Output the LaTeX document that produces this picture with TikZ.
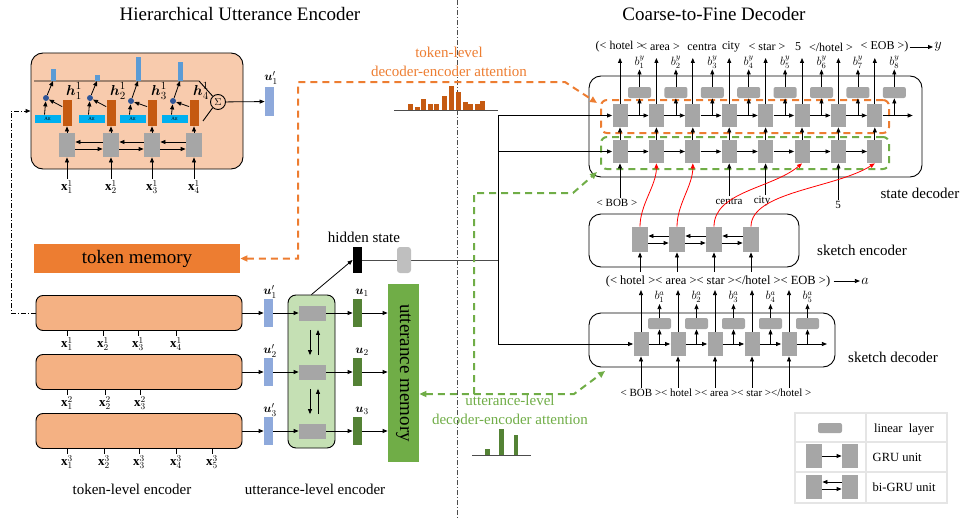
\documentclass[tikz,border=0pt]{standalone}
\usepackage{fontspec}
\setmainfont{Liberation Serif}
\usepackage{amsmath,bm}
\usetikzlibrary{arrows.meta,positioning}

\definecolor{peach}{HTML}{F8CBAD}
\definecolor{tokfill}{HTML}{F4B183}
\definecolor{tokmem}{HTML}{ED7D31}
\definecolor{hbar}{HTML}{C55A11}
\definecolor{attbar}{HTML}{5B9BD5}
\definecolor{attbox}{HTML}{00B0F0}
\definecolor{dotblue}{HTML}{2F5597}
\definecolor{ubar}{HTML}{8EA9DB}
\definecolor{uencfill}{HTML}{C5E0B4}
\definecolor{ugreen}{HTML}{548235}
\definecolor{umem}{HTML}{70AD47}
\definecolor{unitgray}{HTML}{A6A6A6}

\begin{document}
\begin{tikzpicture}[x=1pt,y=-1pt,line width=0.8pt]
		\tikzstyle{arr}=[-{Triangle[length=5pt,width=4pt]}]
		\tikzstyle{bigarr}=[-{Triangle[length=7pt,width=6pt]}]
		\tikzstyle{gru}=[fill=unitgray,minimum width=15pt,minimum height=23pt,inner sep=0pt]
		\tikzstyle{lin}=[fill=unitgray,rounded corners=2pt,minimum width=23pt,minimum height=11pt,inner sep=0pt]
		\tikzstyle{bar}=[minimum width=9pt,inner sep=0pt]
		\tikzstyle{box}=[draw,line width=0.9pt,rounded corners=12pt,inner sep=0pt]
		\tikzstyle{tokb}=[draw,line width=0.9pt,rounded corners=7pt,fill=tokfill,minimum width=206pt,minimum height=35pt]
		\tikzstyle{odash}=[draw=tokmem,line width=2pt,dash pattern=on 7pt off 5pt]
		\tikzstyle{gdash}=[draw=umem,line width=2pt,dash pattern=on 7pt off 5pt]
		\tikzstyle{ttl}=[font=\fontsize{19}{22}\selectfont]
		\tikzstyle{mid}=[font=\fontsize{15}{19}\selectfont,inner sep=1pt]
		\tikzstyle{sml}=[font=\fontsize{12}{14}\selectfont,inner sep=1pt]
		\tikzstyle{tiny}=[font=\fontsize{11}{13}\selectfont,inner sep=1pt]
		\tikzstyle{xl}=[font=\fontsize{13}{15}\selectfont,inner sep=1pt]
		\tikzstyle{hl}=[font=\fontsize{15}{17}\selectfont,inner sep=1pt]
		
		\useasboundingbox (0,0) rectangle (961,519);
		
		% titles and divider
		\draw[gray!60!black,line width=0.9pt,dash pattern=on 5pt off 2pt on 1pt off 2pt] (457,0) -- (457,519);
		\node[ttl] (tenc) at (240,14) {Hierarchical Utterance Encoder};
		\node[ttl] (tdec) at (714,14) {Coarse-to-Fine Decoder};
		
		% first utterance, expanded
		\node[box,fill=peach,minimum width=212pt,minimum height=116pt] (hue) at (137,111) {};
		\draw[line width=0.9pt] (34,81) -- (199,81) -- (212.5,96);
		\draw[line width=0.9pt] (203,121) -- (212.5,108);
		\node[draw,circle,inner sep=0pt,minimum size=15pt,line width=0.9pt] (sig) at (218,102) {$\Sigma$};
		\foreach \i/\gx/\dy/\ah in {1/67/98/12,2/111/98/6,3/152/101/24,4/194/101/19}{
			\fill[attbar] (\gx-16.5,81) rectangle (\gx-11.5,81-\ah);
			\node[gru,minimum width=16pt,minimum height=24pt] (eg\i) at (\gx,145) {};
			\node[bar,fill=hbar,minimum height=26pt] (eh\i) at (\gx,113) {};
			\node[fill=attbox,minimum width=26pt,minimum height=8pt,inner sep=0pt,font=\fontsize{5}{5}\selectfont] (ea\i) at (\gx-19.5,119) {Att};
			\node[circle,fill=dotblue,minimum size=6pt,inner sep=0pt] (ed\i) at (\gx-21,\dy) {};
			\node[xl] (ex\i) at (\gx,187) {$\mathbf{x}^1_{\i}$};
			\node[hl] (ehl\i) at (\gx+7,91) {$\bm{h}^1_{\i}$};
			\draw[arr] (ex\i) -- (eg\i);
			\draw[arr] (eg\i) -- (eh\i);
			\draw[arr] ([yshift=-7pt]eh\i.north west) -- (ed\i);
			\draw[arr] ([xshift=-3pt]ea\i.north) -- (ed\i);
			\draw[arr] (ed\i) -- (\gx-14,81);
		}
		\foreach \i/\j in {1/2,2/3,3/4}{
			\draw[arr] ([yshift=3pt]eg\j.west) -- ([yshift=3pt]eg\i.east);
			\draw[arr] ([yshift=-4pt]eg\i.east) -- ([yshift=-4pt]eg\j.west);
		}
		\node[bar,fill=ubar,minimum height=29pt] (up0) at (269.5,101.5) {};
		\node[xl] (upl0) at (271,78) {$\bm{u}'_1$};
		\draw[arr] (sig) -- (up0);
		
		% token memory
		\node[ttl,fill=tokmem,minimum width=206pt,minimum height=29pt] (tmem) at (137,258.5) {token memory};
		
		% utterance memory and utterance-level encoder
		\node[fill=umem,minimum width=31pt,minimum height=178pt,inner sep=0pt] (umem) at (403.5,373) {};
		\node[ttl,rotate=-90] (umeml) at (umem) {utterance memory};
		\node[draw,line width=0.9pt,rounded corners=8pt,fill=uencfill,minimum width=47pt,minimum height=153pt] (uenc) at (311.5,371.5) {};
		
		% token-level encoder
		\foreach \i/\yy in {1/313,2/372,3/431}{
			\node[tokb] (tok\i) at (139,\yy) {};
			\node[bar,fill=ubar,minimum height=28pt] (up\i) at (268.5,\yy) {};
			\node[xl] (upl\i) at (270,\yy-21) {$\bm{u}'_{\i}$};
			\node[fill=unitgray,minimum width=27pt,minimum height=15pt,inner sep=0pt] (ug\i) at (312.5,\yy) {};
			\node[bar,fill=ugreen,minimum height=28pt] (u\i) at (357.5,\yy) {};
			\node[xl] (ul\i) at (362,\yy-20) {$\bm{u}_{\i}$};
			\draw[arr] (tok\i) -- (up\i);
			\draw[arr] (up\i) -- (ug\i);
			\draw[arr] (ug\i) -- (u\i);
			\draw[arr] (u\i) -- (u\i -| umem.west);
		}
		\foreach \i/\j in {1/2,2/3}{
			\draw[arr,shorten <=9pt,shorten >=9pt] ([xshift=-2.5pt]ug\i.south) -- ([xshift=-2.5pt]ug\j.north);
			\draw[arr,shorten <=9pt,shorten >=9pt] ([xshift=5.5pt]ug\j.north) -- ([xshift=5.5pt]ug\i.south);
		}
		\foreach \j/\xx in {1/67,2/103,3/138,4/176}{
			\node[xl] (xa\j) at (\xx,344) {$\mathbf{x}^1_{\j}$};
			\draw (xa\j.north) -- (xa\j.north |- tok1.south);
		}
		\foreach \j/\xx in {1/67,2/105,3/140}{
			\node[xl] (xb\j) at (\xx,403) {$\mathbf{x}^2_{\j}$};
			\draw (xb\j.north) -- (xb\j.north |- tok2.south);
		}
		\foreach \j/\xx in {1/67,2/104,3/139,4/176,5/212}{
			\node[xl] (xc\j) at (\xx,462) {$\mathbf{x}^3_{\j}$};
			\draw (xc\j.north) -- (xc\j.north |- tok3.south);
		}
		\draw[arr,line width=1pt,dash pattern=on 5pt off 2pt on 1pt off 2pt] (tok1.west) -- (11,313) -- (11,111) -- (hue.west);
		\node[mid] (tlenc) at (132,489) {token-level encoder};
		\node[mid] (ulenc) at (315,489) {utterance-level encoder};
		
		% hidden state
		\coordinate (jn) at (498,260);
		\node[fill=black,minimum width=9pt,minimum height=26pt,inner sep=0pt] (hid) at (357.5,260) {};
		\draw[gray!60!black,line width=1pt] (hid) -- (jn);
		\node[fill=gray!50,rounded corners=3pt,minimum width=14pt,minimum height=26pt,inner sep=0pt] (hlin) at (404,260) {};
		\node[mid] (hidl) at (364,237) {hidden state};
		\draw[arr] (uenc.north) -- (hid.west);
		
		% token-level attention
		\node[mid,text=tokmem,align=center] (otxt) at (449,62) {token-level\\decoder-encoder attention};
		\draw[gray!60!black,line width=1pt] (394,110) -- (498,110);
		\foreach \bx/\bh in {410/6,417.5/3,423/11,430/6,436.5/6,444/14,451.5/24,458/18,465.5/8,470.5/6,477/6,482/9}{
			\fill[hbar] (\bx-2.5,110) rectangle (\bx+2.5,110-\bh);
		}
		
		% utterance-level attention
		\node[mid,text=umem,align=center] (gtxt) at (510,410) {utterance-level\\decoder-encoder attention};
		\draw[gray!60!black,line width=1pt] (472,455) -- (531,455);
		\fill[ugreen] (485,455) rectangle (490,449);
		\fill[ugreen] (499,455) rectangle (504,429);
		\fill[ugreen] (514,455) rectangle (518,435);
		
		% state decoder
		\node[box,minimum width=333pt,minimum height=101pt] (sdec) at (755.5,126.5) {};
		\node[odash,rounded corners=6pt,minimum width=288pt,minimum height=33pt,inner sep=0pt] (obox) at (745,116.5) {};
		\node[gdash,rounded corners=6pt,minimum width=288pt,minimum height=32pt,inner sep=0pt] (gbox) at (745,153) {};
		\foreach \i in {1,...,8}{
			\pgfmathsetmacro{\xx}{620+36.4*(\i-1)}
			\node[gru] (sdt\i) at (\xx,115.5) {};
			\node[gru] (sdb\i) at (\xx,151.5) {};
			\node[lin] (sdl\i) at (\xx+19.5,92.5) {};
			\node[sml] (by\i) at (\xx+19.5,62) {$b^y_{\i}$};
			\draw[arr] (sdb\i) -- (sdt\i);
			\draw[arr] (sdl\i) -- (by\i);
			\draw[arr] (sdt\i.north) -- (sdt\i.north |- 0,58);
			\draw[arr] (sdt\i.east -| sdl\i) -- (sdl\i);
		}
		\foreach \i [count=\j from 2] in {1,...,7}{
			\draw[arr] (sdt\i) -- (sdt\j);
			\draw[arr] (sdb\i) -- (sdb\j);
		}
		\draw[arr] (sdt8.east) -- ++(30,0);
		\draw[arr] (jn) |- (sdt1.west);
		\draw[arr] (jn) |- (sdb1.west);
		\node[sml] (o1) at (619.5,47) {(< hotel >};
		\node[sml] (o2) at (660,47) {< area >};
		\node[sml] (o3) at (702,47) {centra};
		\node[sml] (o4) at (731,47) {city};
		\node[sml] (o5) at (767,47) {< star >};
		\node[sml] (o6) at (798,47) {5};
		\node[sml] (o7) at (831,47) {</hotel >};
		\node[sml] (o8) at (884.5,47) {< EOB >)};
		\node[hl,anchor=west] (oy) at (933,47) {$y$};
		\draw[arr] (o8) -- (oy);
		\node[tiny] (ibob) at (617,203) {< BOB >};
		\node[tiny] (icen) at (729,201) {centra};
		\node[tiny] (icit) at (762,201) {city};
		\node[tiny] (ifiv) at (838,205) {5};
		\draw[arr] (sdb1.south |- ibob.north) -- (sdb1);
		\draw[arr] (sdb4.south |- icen.north) -- (sdb4);
		\draw[arr] (sdb5.south |- icit.north) -- (sdb5);
		\draw[arr] (sdb7.south |- ifiv.north) -- (sdb7);
		\node[mid] (stl) at (920,193) {state decoder};
		
		% sketch encoder
		\node[box,minimum width=210pt,minimum height=53pt] (senc) at (694,240.5) {};
		\node[font=\fontsize{12.5}{14}\selectfont,inner sep=3pt] (skout) at (718,281) {(< hotel >< area >< star ></hotel >< EOB >)};
		\node[hl] (oa) at (865,281) {$a$};
		\draw[arr] (skout) -- (oa);
		\foreach \i in {1,...,4}{
			\pgfmathsetmacro{\xx}{640+37*(\i-1)}
			\node[gru,minimum width=16pt,minimum height=25pt] (se\i) at (\xx,239.5) {};
			\draw[arr] (se\i.south |- skout.north) -- (se\i);
		}
		\foreach \i [count=\j from 2] in {1,2,3}{
			\draw[arr] ([yshift=3.5pt]se\j.west) -- ([yshift=3.5pt]se\i.east);
			\draw[arr] ([yshift=-3.5pt]se\i.east) -- ([yshift=-3.5pt]se\j.west);
		}
		\node[mid] (sel) at (862,250) {sketch encoder};
		
		% sketch decoder
		\node[box,minimum width=246pt,minimum height=54pt] (skdec) at (712,340) {};
		\node[tiny] (skin) at (716,393) {< BOB >< hotel >< area >< star ></hotel >};
		\foreach \i in {1,...,5}{
			\pgfmathsetmacro{\xx}{641+37*(\i-1)}
			\node[gru,minimum height=24pt] (sd\i) at (\xx,344) {};
			\node[lin] (skl\i) at (\xx+18.5,323.5) {};
			\node[sml] (ba\i) at (\xx+18.5,297) {$b^a_{\i}$};
			\draw[arr] (skl\i) -- (ba\i);
			\draw[arr] (sd\i) -- (sd\i.north |- skout.south);
			\draw[arr] (sd\i.south |- skin.north) -- (sd\i);
			\draw[arr] (sd\i.east -| skl\i) -- (skl\i);
		}
		\foreach \i [count=\j from 2] in {1,...,4}{
			\draw[arr] (sd\i) -- (sd\j);
		}
		\draw[arr] (sd5.east) -- ++(30,0);
		\draw[arr] (jn) |- (sd1.west);
		\node[mid] (skdl) at (893,357) {sketch decoder};
		
		% sketch tokens feed the state decoder
		\draw[red,arr] (se1.north) .. controls +(0,-22) and +(0,22) .. (sdb2.south);
		\draw[red,arr] (se2.north) .. controls +(0,-22) and +(0,22) .. (sdb3.south);
		\draw[red,arr] (se3.north) .. controls +(0,-35) and +(-30,25) .. (sdb6.south);
		\draw[red,arr] (se4.north) .. controls +(0,-35) and +(-40,25) .. (sdb8.south);
		
		% attention links
		\coordinate (oatt) at (597,103);
		\coordinate (gst) at (597,172);
		\coordinate (gsk) at (605,371);
		\draw[odash,{Triangle[length=7pt,width=6pt]}-{Triangle[length=7pt,width=6pt]}] (tmem.east) -- (298,258.5) -- (298,82) -- (565,82) -- (oatt);
		\draw[gdash,{Triangle[length=7pt,width=6pt]}-{Triangle[length=7pt,width=6pt]}] (umem.east |- 0,394) -- (574,394) -- (gsk);
		\draw[gdash,bigarr] (474,394) -- (474,193) -- (573,193) -- (gst);
		
		% legend
		\draw[gray!20,line width=2pt] (795,413) rectangle (947,503);
		\draw[gray!20,line width=2pt] (866,413) -- (866,503);
		\draw[gray!20,line width=2pt] (795,442) -- (947,442);
		\draw[gray!20,line width=2pt] (795,472) -- (947,472);
		\node[lin,minimum width=24pt,minimum height=10pt] (lgl) at (830,428) {};
		\node[gru,minimum width=16pt,minimum height=24pt] (lga) at (814,456) {};
		\node[gru,minimum width=16pt,minimum height=24pt] (lgb) at (850,456) {};
		\draw[arr] (lga) -- (lgb);
		\node[gru,minimum width=16pt,minimum height=24pt] (lgc) at (814,487) {};
		\node[gru,minimum width=16pt,minimum height=24pt] (lgd) at (850,487) {};
		\draw[arr] ([yshift=5pt]lgd.west) -- ([yshift=5pt]lgc.east);
		\draw[arr] ([yshift=-2pt]lgc.east) -- ([yshift=-2pt]lgd.west);
		\node[font=\fontsize{12.5}{14}\selectfont] (lgt1) at (904,430) {linear\enspace layer};
		\node[font=\fontsize{12.5}{14}\selectfont,anchor=west] (lgt2) at (869,457) {GRU unit};
		\node[font=\fontsize{12.5}{14}\selectfont,anchor=west] (lgt3) at (869,487) {bi-GRU unit};
\end{tikzpicture}
\end{document}
